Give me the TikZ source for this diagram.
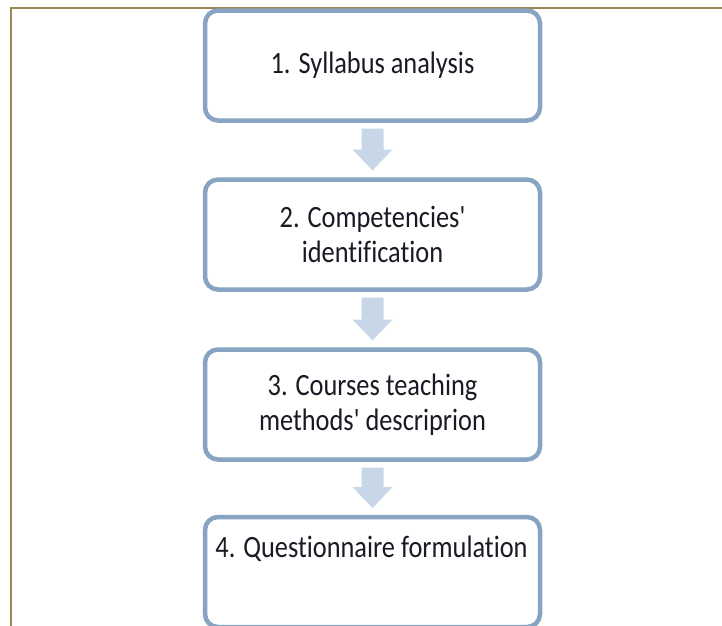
\documentclass[tikz,border=0pt]{standalone}
\usepackage{fontspec}
\newfontfamily\stepfont{Carlito}[FakeStretch=0.85, Ligatures={NoCommon,NoRequired}]
\usetikzlibrary{calc}
\definecolor{framec}{HTML}{9A8458}
\definecolor{boxc}{HTML}{87A4C2}
\definecolor{arrc}{HTML}{C8D7E7}
\definecolor{txtc}{HTML}{1A1A24}
\newcommand\flowblockarrow[2]{%
  \fill[arrc] ($(#1.south)+(-11,-8)$) -- ($(#1.south)+(11,-8)$)
    -- ($(#2.north)+(11,30)$) -- ($(#2.north)+(20,30)$)
    -- ($(#2.north)+(0,9)$) -- ($(#2.north)+(-20,30)$)
    -- ($(#2.north)+(-11,30)$) -- cycle;}
\begin{document}
\begin{tikzpicture}[x=1pt,y=1pt,
  stepbox/.style={draw=boxc, line width=4.5pt, rounded corners=13pt, fill=white,
    minimum width=335pt, minimum height=110pt, outer sep=0pt, inner sep=0pt,
    align=center, text=txtc, font=\stepfont\fontsize{31}{35}\selectfont},
  steptext/.style={inner sep=0pt, text=txtc, font=\stepfont\fontsize{31}{35}\selectfont}]
\useasboundingbox (0,0) rectangle (722,-625);
\clip (0,0) rectangle (722,-625);
\fill[white] (0,0) rectangle (722,-625);
\draw[framec, line width=2pt] (10.5,-7.5) rectangle (760,-660);
\node[stepbox] (b1) at (372.5,-65.5) {1. Syllabus analysis};
\node[stepbox] (b2) at (372.5,-234.5) {2. Competencies'\\identification};
\node[stepbox] (b3) at (372.5,-404.5) {3. Courses teaching\\methods' descriprion};
\node[stepbox] (b4) at (372.5,-572) {};
\node[steptext, anchor=base] (t4) at (371.5,-557) {4. Questionnaire formulation};
\flowblockarrow{b1}{b2}
\flowblockarrow{b2}{b3}
\flowblockarrow{b3}{b4}
\end{tikzpicture}
\end{document}
